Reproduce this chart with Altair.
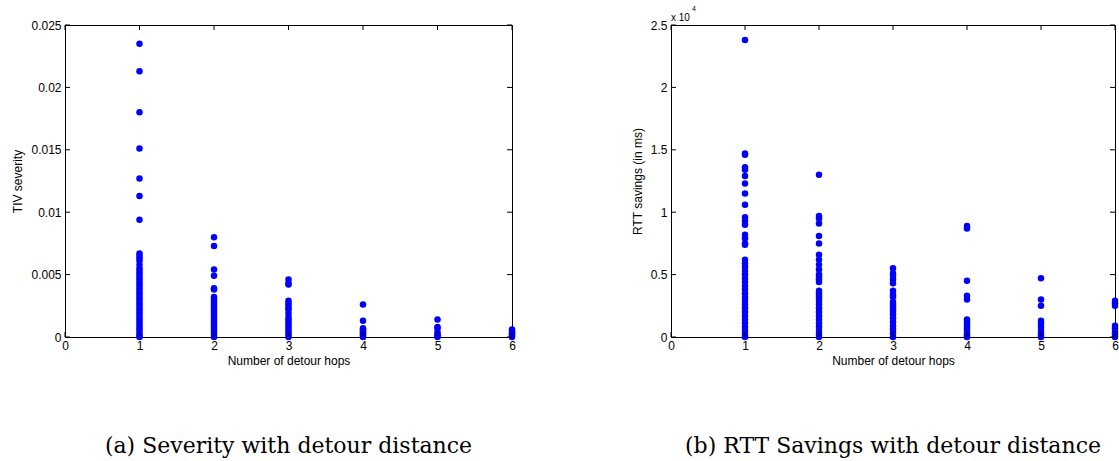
import altair as alt
import pandas as pd

# ---------------- data ----------------
# (a) TIV severity per number of detour hops
sev_h1 = [0.0235, 0.0213, 0.0180, 0.0151, 0.0127, 0.0113, 0.0094,
          0.0067, 0.0065, 0.0063, 0.0061, 0.0058, 0.0055, 0.0053, 0.0051,
          0.0049, 0.0047, 0.0045, 0.0043, 0.0041, 0.0039, 0.0037, 0.0035,
          0.0033, 0.0031, 0.0029, 0.0027, 0.0025, 0.0023, 0.0021, 0.0019,
          0.0017, 0.0015, 0.0013, 0.0011, 0.0009, 0.0007, 0.0005, 0.0003,
          0.0001, 0.0]
sev_h2 = [0.0080, 0.0073, 0.0054, 0.0049, 0.0039, 0.0038, 0.0032, 0.0030,
          0.0028, 0.0026, 0.0024, 0.0022, 0.0020, 0.0018, 0.0016, 0.0014,
          0.0012, 0.0010, 0.0008, 0.0006, 0.0004, 0.0002, 0.0]
sev_h3 = [0.0046, 0.0043, 0.0042, 0.0029, 0.0027, 0.0025, 0.0023, 0.0022,
          0.0019, 0.0016, 0.0014, 0.0012, 0.0010, 0.0008, 0.0006, 0.0004,
          0.0002, 0.0]
sev_h4 = [0.0026, 0.0013, 0.0007, 0.0006, 0.0005, 0.0004, 0.0003, 0.0002,
          0.0001, 0.0]
sev_h5 = [0.0014, 0.0008, 0.0007, 0.0004, 0.0002, 0.0001, 0.0]
sev_h6 = [0.0006, 0.0005, 0.0004, 0.0003, 0.0002, 0.0001, 0.0]

# (b) RTT savings (ms) per number of detour hops
rtt_h1 = [23800, 14700, 14600, 13600, 13400, 12900, 12300, 11500, 10600,
          9600, 9300, 9000, 8200, 7900, 7500, 7400,
          6200, 5900, 5600, 5300, 5000, 4700, 4400, 4100, 3800, 3500, 3200,
          2900, 2600, 2300, 2000, 1700, 1400, 1100, 800, 500, 200, 0]
rtt_h2 = [13000, 9700, 9500, 9100, 8100, 7500, 6600, 6200, 5800, 5400,
          5000, 4800, 4600, 4400, 3700, 3500, 3300, 3100,
          2900, 2600, 2300, 2000, 1700, 1400, 1100, 800, 500, 200, 0]
rtt_h3 = [5500, 5100, 4900, 4600, 4300, 3700, 3400, 3200, 2800, 2600, 2400,
          2200, 2000, 1800, 1500, 1200, 900, 600, 300, 0]
rtt_h4 = [8900, 8700, 4500, 3300, 3000, 1400, 1200, 1000, 800, 600, 400,
          200, 100, 0]
rtt_h5 = [4700, 3000, 2500, 1300, 1100, 800, 500, 300, 100, 0]
rtt_h6 = [2900, 2700, 2500, 900, 700, 400, 200, 0]

hop_ticks = [0, 1, 2, 3, 4, 5, 6]
sev_ticks = [0, 0.005, 0.01, 0.015, 0.02, 0.025]
rtt_ticks = [0, 5000, 10000, 15000, 20000, 25000]

x_title = "Number of detour hops"
sev_title = "TIV severity"
rtt_title = "RTT savings (in ms)"
caption_a = "(a) Severity with detour distance"
caption_b = "(b) RTT Savings with detour distance"
exp_base = "x 10"
exp_power = "4"


def long_df(groups):
    rows = []
    for hop, vals in groups:
        for v in vals:
            rows.append({"hops": hop, "val": v})
    return pd.DataFrame(rows)


sev_df = long_df([(1, sev_h1), (2, sev_h2), (3, sev_h3), (4, sev_h4),
                  (5, sev_h5), (6, sev_h6)])
rtt_df = long_df([(1, rtt_h1), (2, rtt_h2), (3, rtt_h3), (4, rtt_h4),
                  (5, rtt_h5), (6, rtt_h6)])

AX_FONT = "Liberation Sans"
BLUE = "#0000ff"
TICK = 5


def panel(df, ydomain, yticks, ytitle, caption, W, H, label_expr,
          extra=None):
    xs = alt.Scale(domain=[0, 6], nice=False, zero=False)
    ys = alt.Scale(domain=ydomain, nice=False, zero=False)
    yaxis = alt.Axis(values=yticks, title=ytitle, ticks=False, domain=False,
                     grid=False, labelFont=AX_FONT, labelFontSize=12,
                     labelColor="black", labelPadding=4, titleFont=AX_FONT,
                     titleFontSize=12, titleFontWeight="normal",
                     titleColor="black", titlePadding=6,
                     labelExpr=label_expr)
    xaxis = alt.Axis(values=hop_ticks, title=x_title, ticks=False,
                     domain=False, grid=False, labelFont=AX_FONT,
                     labelFontSize=12, labelColor="black", labelPadding=3,
                     titleFont=AX_FONT, titleFontSize=12,
                     titleFontWeight="normal", titleColor="black",
                     titlePadding=4, labelFlush=False)
    X = alt.X("hops:Q", scale=xs, axis=xaxis)
    Y = alt.Y("val:Q", scale=ys, axis=yaxis)
    pts = alt.Chart(df).mark_circle(size=42, color=BLUE, opacity=1).encode(
        x=X, y=Y)
    xt = pd.DataFrame({"hops": hop_ticks})
    yt = pd.DataFrame({"val": yticks})
    rule = dict(color="black", strokeWidth=1)
    bottom = alt.Chart(xt).mark_rule(**rule).encode(
        x=X, y=alt.value(H), y2=alt.value(H - TICK))
    top = alt.Chart(xt).mark_rule(**rule).encode(
        x=X, y=alt.value(0), y2=alt.value(TICK))
    left = alt.Chart(yt).mark_rule(**rule).encode(
        y=Y, x=alt.value(0), x2=alt.value(TICK))
    right = alt.Chart(yt).mark_rule(**rule).encode(
        y=Y, x=alt.value(W), x2=alt.value(W - TICK))
    layers = [pts, bottom, top, left, right]
    if extra is not None:
        layers += extra
    return alt.layer(*layers).properties(
        width=W, height=H,
        title=alt.TitleParams(text=caption, orient="bottom",
                              font="DejaVu Serif", fontSize=22,
                              fontWeight="normal", color="black",
                              offset=70, anchor="middle"),
    )


W_A, W_B, H = 447, 444, 312

exp_df = pd.DataFrame({"t": [exp_base]})
exp_text = [
    alt.Chart(exp_df).mark_text(font=AX_FONT, fontSize=10, align="left",
                                baseline="alphabetic", color="black").encode(
        text="t:N", x=alt.value(0), y=alt.value(-4)),
    alt.Chart(pd.DataFrame({"t": [exp_power]})).mark_text(
        font=AX_FONT, fontSize=7, align="left", baseline="alphabetic",
        color="black").encode(text="t:N", x=alt.value(21), y=alt.value(-14)),
]

pa = panel(sev_df, [0, 0.025], sev_ticks, sev_title, caption_a, W_A, H,
           label_expr="format(datum.value, '~g')")
pb = panel(rtt_df, [0, 25000], rtt_ticks, rtt_title, caption_b, W_B, H,
           label_expr="format(datum.value / 10000, '~g')", extra=exp_text)

chart = alt.hconcat(pa, pb, spacing=114).properties(
    padding={"left": 11, "top": 4, "right": 0, "bottom": 0},
    background="white",
).configure_view(stroke="black", strokeWidth=1)

chart.save("out.html", embed_options={"renderer": "svg", "actions": False})
